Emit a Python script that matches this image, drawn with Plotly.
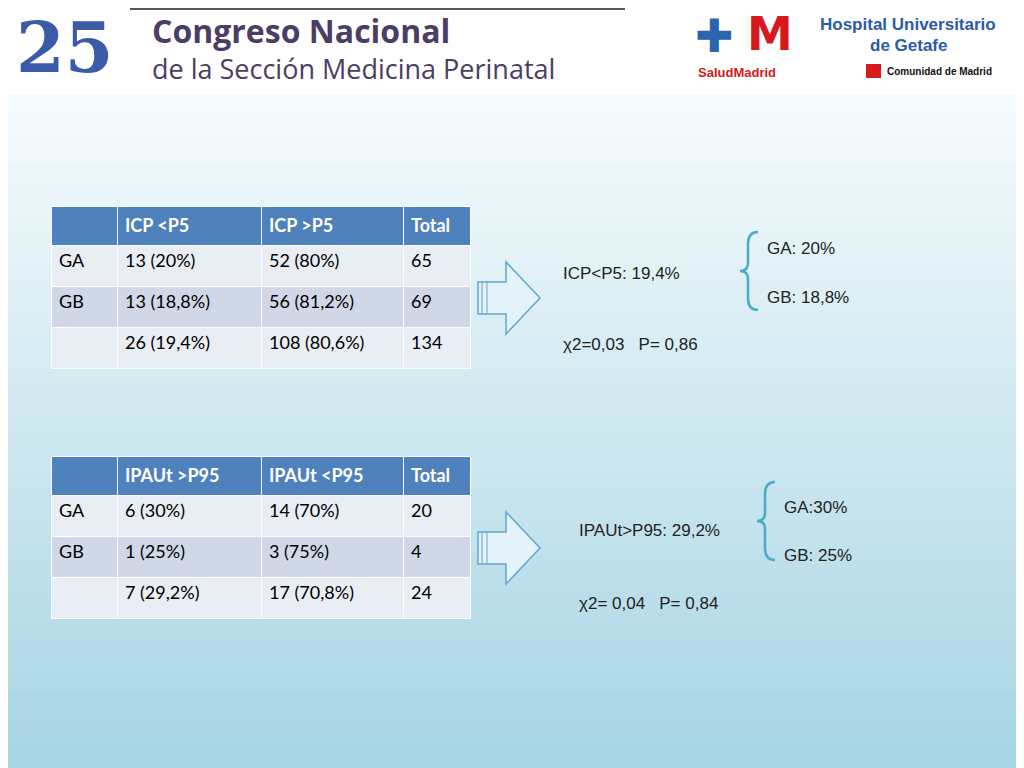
import plotly.graph_objects as go

hdr1 = ["", "ICP <P5", "ICP >P5", "Total"]
col1 = [["GA", "GB", ""], ["13 (20%)", "13 (18,8%)", "26 (19,4%)"],
        ["52 (80%)", "56 (81,2%)", "108 (80,6%)"], ["65", "69", "134"]]
hdr2 = ["", "IPAUt >P95", "IPAUt <P95", "Total"]
col2 = [["GA", "GB", ""], ["6 (30%)", "1 (25%)", "7 (29,2%)"],
        ["14 (70%)", "3 (75%)", "17 (70,8%)"], ["20", "4", "24"]]
texts1 = ["ICP<P5: 19,4%", "χ2=0,03   P= 0,86", "GA: 20%", "GB: 18,8%"]
texts2 = ["IPAUt>P95: 29,2%", "χ2= 0,04   P= 0,84", "GA:30%", "GB: 25%"]

W, H = 1024, 768
OFF = 8
fig = go.Figure()
fig.add_trace(go.Scatter(x=[OFF, W], y=[OFF, H], mode="markers", marker=dict(opacity=0),
                         hoverinfo="skip"))
fig.update_layout(width=W, height=H, margin=dict(l=0, r=0, t=0, b=0),
                  paper_bgcolor="white", plot_bgcolor="rgba(0,0,0,0)",
                  xaxis=dict(range=[OFF, W + OFF], visible=False, fixedrange=True),
                  yaxis=dict(range=[H + OFF, OFF], visible=False, fixedrange=True),
                  showlegend=False)
shapes = []
n = 40
y0 = 95
c0 = (245, 251, 253); c1 = (168, 212, 228)
for i in range(n):
    t = i / (n - 1)
    c = tuple(int(c0[k] + (c1[k] - c0[k]) * t) for k in range(3))
    ya = y0 + (H + OFF - y0) * i / n
    yb = y0 + (H + OFF - y0) * (i + 1) / n + 1
    shapes.append(dict(type="rect", x0=0, x1=W + OFF, y0=ya, y1=yb, line_width=0,
                       fillcolor="rgb(%d,%d,%d)" % c, layer="below"))

def tbl(hdr, cols, top):
    left, right = 43, 462
    return go.Table(
        domain=dict(x=[left / W, right / W], y=[1 - (top + 164) / H, 1 - top / H]),
        columnwidth=[66, 144, 142, 67],
        header=dict(values=["<b>%s</b>" % h for h in hdr], fill_color="#4F81BD", height=39,
                    align="left", line=dict(color="white", width=1),
                    font=dict(family="Lato", size=18, color="white")),
        cells=dict(values=cols, height=41, align="left",
                   fill_color=[["#E9EDF4", "#D0D8E8", "#E9EDF4"]] * 4,
                   line=dict(color="white", width=1),
                   font=dict(family="Lato", size=18, color="black")))

fig.add_trace(tbl(hdr1, col1, 198))
fig.add_trace(tbl(hdr2, col2, 448))

def arrow(x, y):
    p = (f"M{x},{y+20} L{x+28},{y+20} L{x+28},{y} L{x+62},{y+36} "
         f"L{x+28},{y+72} L{x+28},{y+52} L{x},{y+52} Z")
    shapes.append(dict(type="path", path=p, fillcolor="#E4F3FA",
                       line=dict(color="#5FA8CF", width=1.5)))
    for dx in (4, 9):
        shapes.append(dict(type="line", x0=x + dx, x1=x + dx, y0=y + 20, y1=y + 52,
                           line=dict(color="#5FA8CF", width=1)))

def brace(x, ytop, ybot):
    m = (ytop + ybot) / 2
    p = (f"M{x+10},{ytop} Q{x},{ytop} {x},{ytop+12} L{x},{m-8} Q{x},{m} {x-8},{m} "
         f"Q{x},{m} {x},{m+8} L{x},{ybot-12} Q{x},{ybot} {x+10},{ybot}")
    shapes.append(dict(type="path", path=p, line=dict(color="#4BACC6", width=2.5)))

arrow(478, 262); arrow(478, 512)
brace(748, 232, 310); brace(765, 482, 560)

def txt(x, y, s, size=17, color="#222", fam="Liberation Sans", bold=False, anchor="left"):
    fig.add_annotation(x=x, y=y, text=("<b>%s</b>" % s) if bold else s, showarrow=False,
                       xanchor=anchor, yanchor="middle",
                       font=dict(family=fam, size=size, color=color))

txt(561, 273, texts1[0]); txt(561, 344, texts1[1]); txt(765, 248, texts1[2]); txt(765, 297, texts1[3])
txt(577, 530, texts2[0]); txt(577, 603, texts2[1]); txt(782, 507, texts2[2]); txt(782, 555, texts2[3])

txt(14, 47, "25", size=70, color="#3B5BA9", fam="DejaVu Serif", bold=True)
txt(150, 30, "Congreso Nacional", size=32, color="#4B3D63", fam="Open Sans", bold=True)
txt(150, 68, "de la Sección Medicina Perinatal", size=27, color="#4B3D63", fam="Open Sans")
shapes.append(dict(type="line", x0=130, x1=625, y0=9, y1=9, line=dict(color="#555", width=2)))
txt(693, 36, "✚", size=46, color="#2B65B0")
txt(745, 34, "M", size=46, color="#D7191C", fam="DejaVu Sans", bold=True)
txt(696, 72, "SaludMadrid", size=13, color="#D7191C", fam="Liberation Sans", bold=True)
txt(908, 24, "Hospital Universitario", size=17, color="#2B5BA8", fam="Liberation Sans", bold=True, anchor="center")
txt(908, 45, "de Getafe", size=17, color="#2B5BA8", fam="Liberation Sans", bold=True, anchor="center")
shapes.append(dict(type="rect", x0=866, x1=881, y0=64, y1=78, fillcolor="#D7191C", line_width=0))
txt(885, 71, "Comunidad de Madrid", size=10, color="#111", fam="Liberation Sans", bold=True)

fig.update_layout(shapes=shapes)
fig.write_html("out.html")
